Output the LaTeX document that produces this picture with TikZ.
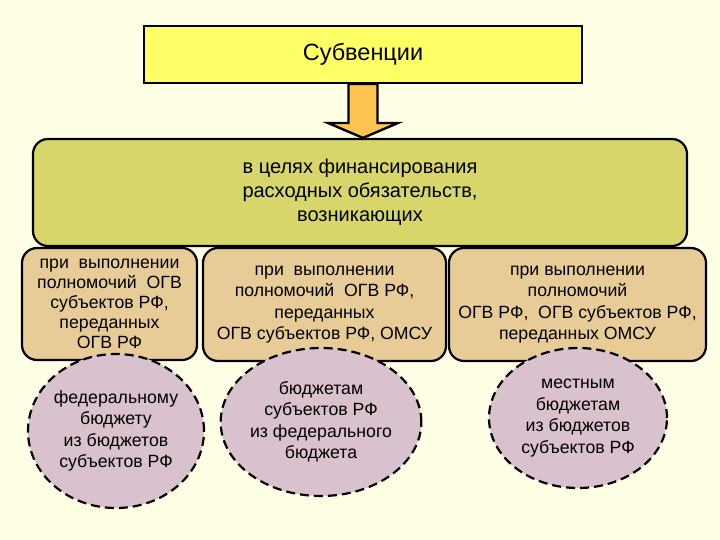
\documentclass[tikz,border=0pt]{standalone}
\usepackage{fontspec}
\setmainfont{Liberation Sans}
\usetikzlibrary{shapes.geometric,calc}

\definecolor{bgcream}{HTML}{FFFFE6}
\definecolor{titleyellow}{HTML}{FFFF66}
\definecolor{arroworange}{HTML}{FFC34F}
\definecolor{goalolive}{HTML}{D6D66B}
\definecolor{casetan}{HTML}{E8CC98}
\definecolor{budgetmauve}{HTML}{D9C1CD}

\tikzset{
  titlebox/.style={draw=black, line width=2pt, fill=titleyellow, inner sep=0pt},
  goalbox/.style={draw=black, line width=2.2pt, fill=goalolive, rounded corners=15pt, inner sep=0pt, align=center},
  casebox/.style={draw=black, line width=2.2pt, fill=casetan, rounded corners=15pt, inner sep=0pt, align=center},
  budget/.style={ellipse, draw=black, line width=2.2pt, dash pattern=on 9pt off 5pt, fill=budgetmauve, inner sep=0pt, align=center},
  bigarrow/.style={draw=black, line width=2.4pt, fill=arroworange, line join=miter}
}

\begin{document}
\begin{tikzpicture}[x=1pt, y=-1pt, font=\fontsize{17.7}{21.5}\selectfont]
  % page and background
  \useasboundingbox (0,0) rectangle (720,540);
  \fill[bgcream] (0,0) rectangle (720,540);

  % Top: subventions
  \node[titlebox, minimum width=438pt, minimum height=57pt, font=\fontsize{23.5}{28}\selectfont] (subv) at (363,54.5) {Субвенции};

  % Goal box
  \node[goalbox, minimum width=654pt, minimum height=107pt, font=\fontsize{20}{24}\selectfont] (goal) at (360,192.5)
    {в целях финансирования\\расходных обязательств,\\возникающих};

  % Fat arrow from title to goal
  \draw[bigarrow] ($(subv.south)+(-14.5,0)$) -- ($(subv.south)+(14.5,0)$)
    -- ($(subv.south)+(14.5,39)$) -- ($(subv.south)+(35,39)$)
    -- (subv.south |- goal.north)
    -- ($(subv.south)+(-35,39)$) -- ($(subv.south)+(-14.5,39)$) -- cycle;

  % Cases
  \node[casebox, minimum width=175pt, minimum height=112pt, font=\fontsize{17.7}{20}\selectfont] (caseA) at (109.5,304)
    {при\ \ выполнении\\полномочий\ \ ОГВ\\субъектов РФ,\\переданных\\ОГВ РФ};
  \node[casebox, minimum width=243pt, minimum height=113pt] (caseB) at (324.5,304.5)
    {при\ \ выполнении\\полномочий\ \ ОГВ РФ,\\переданных\\ОГВ субъектов РФ, ОМСУ};
  \node[casebox, minimum width=257pt, minimum height=113pt] (caseC) at (577.5,304.5)
    {при выполнении\\полномочий\\ОГВ РФ,\ \ ОГВ субъектов РФ,\\переданных ОМСУ};

  % Budgets (dashed ellipses)
  \node[budget, minimum width=176pt, minimum height=154pt] (budgetA) at (116,431)
    {федеральному\\бюджету\\из бюджетов\\субъектов РФ};
  \node[budget, minimum width=180pt, minimum height=148pt] (budgetB) at (321,422)
    {бюджетам\\субъектов РФ\\из федерального\\бюджета};
  \node[budget, minimum width=178pt, minimum height=140pt] (budgetC) at (578,418)
    {местным\\бюджетам\\из бюджетов\\субъектов РФ};
\end{tikzpicture}
\end{document}
